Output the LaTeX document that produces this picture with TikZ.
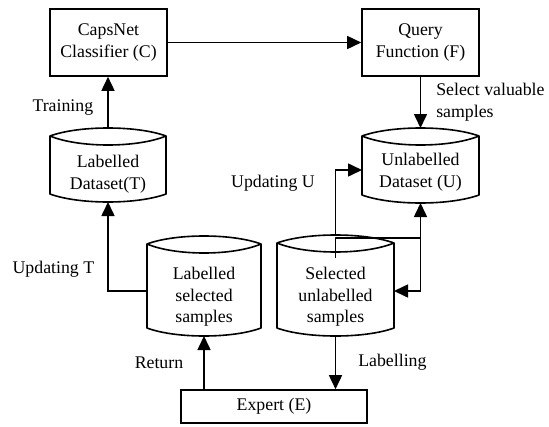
\documentclass[tikz,border=0pt]{standalone}
\usepackage{fontspec}
\setmainfont{Liberation Serif}
\usetikzlibrary{arrows.meta,calc}
\newcommand\drum[4]{%
  \path (#1.center) ++(-#2,-#3) coordinate (#1-tl)
        (#1.center) ++(#2,-#3) coordinate (#1-tr)
        (#1.center) ++(-#2,#4) coordinate (#1-bl)
        (#1.center) ++(#2,#4) coordinate (#1-br)
        (#1.center) ++(0,-#3-8) coordinate (#1-top)
        (#1.center) ++(0,#4+8) coordinate (#1-bot);
  \draw[conn] (#1-tr) -- (#1-br)
     .. controls +(-#2/2,10.67) and +(#2/2,10.67) .. (#1-bl) -- (#1-tl)
     .. controls +(#2/2,-10.67) and +(-#2/2,-10.67) .. (#1-tr)
     .. controls +(-#2/2,12) and +(#2/2,12) .. (#1-tl);
}
\begin{document}
\begin{tikzpicture}[x=1pt,y=-1pt,
  every node/.style={font=\fontsize{17.8}{21.5}\selectfont},
  box/.style={draw, line width=1.6pt, align=center, inner sep=0pt},
  txt/.style={align=center, inner sep=0pt},
  lbl/.style={inner sep=0pt, align=left},
  conn/.style={line width=1.6pt, line join=round},
  arr/.style={line width=1.6pt, -{Triangle[length=14pt,width=13pt]}}]
\useasboundingbox (0,0) rectangle (549,426);

% boxes
\node[box, minimum width=117pt, minimum height=67pt] (C) at (108.5,42.5) {CapsNet\\Classifier (C)};
\node[box, minimum width=117pt, minimum height=67pt] (F) at (420.5,42.5) {Query\\Function (F)};
\node[box, minimum width=186pt, minimum height=33pt] (E) at (274,406.5) {Expert (E)};

% cylinders
\node[txt] (T) at (108,174) {Labelled\\Dataset(T)};
\drum{T}{58}{38}{20}
\node[txt] (U) at (420.5,172) {Unlabelled\\Dataset (U)};
\drum{U}{58.5}{36}{23}
\node[txt] (LS) at (204,297) {Labelled\\selected\\samples};
\drum{LS}{57}{53}{31}
\node[txt] (SU) at (335.5,297) {Selected\\unlabelled\\samples};
\drum{SU}{58.5}{54}{31}

% connectors
\draw[arr] (C.east) -- (F.west);
\draw[arr] (F.south) -- node[lbl, right=15pt] {Select valuable\\samples} (U-top);
\draw[arr] (T-top) -- node[pos=0.4, left=14pt, inner sep=0pt] {Training} (T-top |- C.south);
\draw[arr] ([yshift=6pt]LS-tl |- LS.center) -| node[pos=0.62, left=13pt, inner sep=0pt] {Updating T} (T-bot);
\draw[arr] (LS-bot |- E.north) -- node[left=20pt, inner sep=0pt] {Return} (LS-bot);
\draw[arr] (SU-bot) -- node[right=22pt, inner sep=0pt] {Labelling} (SU-bot |- E.north);
\draw[arr] (SU-top) |- node[pos=0.4, left=20pt, inner sep=0pt] {Updating U} ([yshift=2pt]U-tl |- U.center);

\path ($(SU.center)+(0,-39)$) coordinate (s)
      ($(SU.center)+(0,-59)$) coordinate (jy);
\coordinate (j) at (U-bot |- jy);
\draw[conn] (s) |- (j);
\draw[arr] (j) -- (U-bot);
\draw[arr] (j) |- ([yshift=6pt]SU-tr |- SU.center);
\end{tikzpicture}
\end{document}
